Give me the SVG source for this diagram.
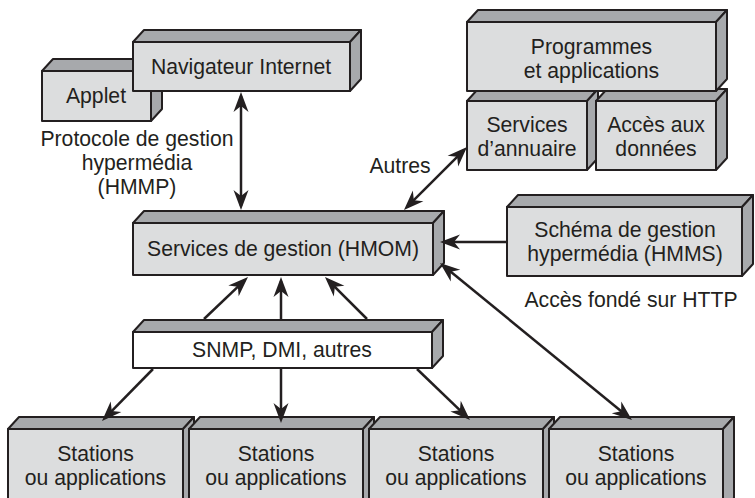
<svg xmlns="http://www.w3.org/2000/svg" width="755" height="498" viewBox="0 0 755 498">
<style>
.f{fill:#dcddde;stroke:#231f20;stroke-width:2;stroke-linejoin:round}
.w{fill:#ffffff;stroke:#231f20;stroke-width:2;stroke-linejoin:round}
.d{fill:#a7a9ac;stroke:#231f20;stroke-width:2;stroke-linejoin:round}
.t{font-family:"Liberation Sans",Arial,sans-serif;font-size:21.2px;fill:#231f20;text-anchor:middle}
.c{stroke:#231f20;stroke-width:2.5;fill:none}
.a{marker-end:url(#ah)}
.b{marker-start:url(#ah);marker-end:url(#ah)}
</style>
<defs>
<marker id="ah" markerUnits="userSpaceOnUse" markerWidth="30" markerHeight="30" viewBox="-20 -10 30 20" refX="0" refY="0" orient="auto-start-reverse">
<path d="M-16,-7.5 L4,0 L-16,7.5 L-10,0 Z" fill="#231f20"/>
</marker>
</defs>

<g id="applet">
<polygon class="d" points="42,71 53,59 162,59 151,71"/>
<polygon class="d" points="151,71 162,59 162,109 151,121"/>
<rect class="f" x="42" y="71" width="109" height="50"/>
<text class="t" x="96" y="103">Applet</text>
</g>
<g id="navigateur">
<polygon class="d" points="133,42 144,30 361,30 350,42"/>
<polygon class="d" points="350,42 361,30 361,79 350,91"/>
<rect class="f" x="133" y="42" width="217" height="49"/>
<text class="t" x="241" y="74">Navigateur Internet</text>
</g>

<g id="annuaire">
<polygon class="d" points="467,101 478,89 598,89 587,101"/>
<polygon class="d" points="587,101 598,89 598,158 587,170"/>
<rect class="f" x="467" y="101" width="120" height="69"/>
<text class="t" x="527" y="132">Services</text>
<text class="t" x="527" y="156">d’annuaire</text>
</g>
<g id="acces-donnees">
<polygon class="d" points="596,101 607,89 727,89 716,101"/>
<polygon class="d" points="716,101 727,89 727,158 716,170"/>
<rect class="f" x="596" y="101" width="120" height="69"/>
<text class="t" x="656" y="132">Accès aux</text>
<text class="t" x="656" y="156">données</text>
</g>
<g id="programmes">
<polygon class="d" points="467,22 478,10 727,10 716,22"/>
<polygon class="d" points="716,22 727,10 727,79 716,91"/>
<rect class="f" x="467" y="22" width="249" height="69"/>
<text class="t" x="591.5" y="54">Programmes</text>
<text class="t" x="591.5" y="78">et applications</text>
</g>

<g id="hmom">
<polygon class="d" points="133,223 144,211 444,211 433,223"/>
<polygon class="d" points="433,223 444,211 444,263 433,275"/>
<rect class="f" x="133" y="223" width="300" height="52"/>
<text class="t" x="283" y="256">Services de gestion (HMOM)</text>
</g>

<g id="hmms">
<polygon class="d" points="507,207 518,195 753,195 742,207"/>
<polygon class="d" points="742,207 753,195 753,264 742,276"/>
<rect class="f" x="507" y="207" width="235" height="69"/>
<text class="t" x="625" y="237">Schéma de gestion</text>
<text class="t" x="625" y="261">hypermédia (HMMS)</text>
</g>

<g id="snmp">
<polygon class="d" points="133,332 144,320 443,320 432,332"/>
<polygon class="d" points="432,332 443,320 443,356 432,368"/>
<rect class="w" x="133" y="332" width="299" height="36"/>
<text class="t" x="282" y="357">SNMP, DMI, autres</text>
</g>

<g id="station1">
<polygon class="d" points="8,429 19,417 194,417 183,429"/>
<polygon class="d" points="183,429 194,417 194,498 183,510"/>
<rect class="f" x="8" y="429" width="175" height="80"/>
<text class="t" x="95.5" y="461">Stations</text>
<text class="t" x="95.5" y="485">ou applications</text>
</g>
<g id="station2">
<polygon class="d" points="189,429 200,417 374,417 363,429"/>
<polygon class="d" points="363,429 374,417 374,498 363,510"/>
<rect class="f" x="189" y="429" width="174" height="80"/>
<text class="t" x="276" y="461">Stations</text>
<text class="t" x="276" y="485">ou applications</text>
</g>
<g id="station3">
<polygon class="d" points="369,429 380,417 554,417 543,429"/>
<polygon class="d" points="543,429 554,417 554,498 543,510"/>
<rect class="f" x="369" y="429" width="174" height="80"/>
<text class="t" x="456" y="461">Stations</text>
<text class="t" x="456" y="485">ou applications</text>
</g>
<g id="station4">
<polygon class="d" points="549,429 560,417 734,417 723,429"/>
<polygon class="d" points="723,429 734,417 734,498 723,510"/>
<rect class="f" x="549" y="429" width="174" height="80"/>
<text class="t" x="636" y="461">Stations</text>
<text class="t" x="636" y="485">ou applications</text>
</g>

<g id="labels">
<text class="t" x="137" y="146">Protocole de gestion</text>
<text class="t" x="137" y="170">hypermédia</text>
<text class="t" x="137" y="194">(HMMP)</text>
<text class="t" x="400" y="173">Autres</text>
<text class="t" x="631" y="307">Accès fondé sur HTTP</text>
</g>

<g id="connectors">
<line class="c b" x1="241" y1="96" x2="241" y2="206"/>
<line class="c b" x1="406.8" y1="207.2" x2="464.2" y2="149.8"/>
<line class="c a" x1="507" y1="242" x2="444" y2="242"/>
<line class="c b" x1="443.1" y1="265.5" x2="628.9" y2="417.5"/>
<line class="c a" x1="204" y1="319" x2="245.1" y2="279.8"/>
<line class="c a" x1="281" y1="319" x2="281" y2="281"/>
<line class="c a" x1="367" y1="319" x2="327.8" y2="279.8"/>
<line class="c a" x1="153" y1="369" x2="104.8" y2="418.1"/>
<line class="c a" x1="281" y1="369" x2="281" y2="419"/>
<line class="c a" x1="417" y1="369" x2="467.1" y2="417.2"/>
</g>
</svg>
